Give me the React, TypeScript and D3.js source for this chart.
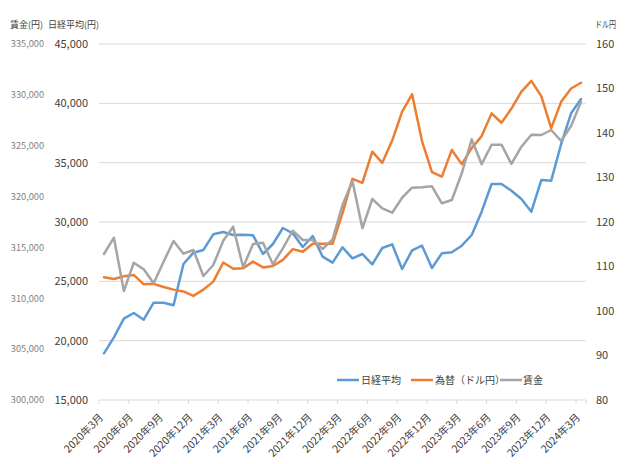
import React from "react";
import * as d3 from "d3";

const months: string[] = [];
for (let y = 2020; y <= 2024; y++) {
  for (let m = 1; m <= 12; m++) {
    if ((y === 2020 && m < 3) || (y === 2024 && m > 3)) continue;
    months.push(`${y}年${m}月`);
  }
}

const nikkei = [
  18935, 20283, 21851, 22331, 21767, 23200, 23200, 22980, 26461, 27413, 27640, 28963,
  29157, 28904, 28930, 28880, 27303, 28146, 29494, 29046, 27893, 28820, 27079, 26573,
  27865, 26938, 27303, 26433, 27809, 28118, 26039, 27612, 28005, 26124, 27359, 27444,
  28005, 28904, 30870, 33202, 33202, 32640, 31938, 30870, 33539, 33483, 36573, 39157, 40365,
];

const fx = [
  107.6, 107.2, 107.8, 108.1, 106.0, 106.1, 105.4, 104.8, 104.4, 103.4, 104.8, 106.6,
  110.9, 109.5, 109.6, 111.1, 109.8, 110.1, 111.5, 113.9, 113.3, 115.1, 115.1, 115.1,
  122.0, 129.7, 128.8, 135.8, 133.3, 138.3, 144.8, 148.7, 138.2, 131.2, 130.2, 136.2,
  133.0, 136.6, 139.3, 144.4, 142.3, 145.5, 149.3, 151.7, 148.3, 141.1, 147.0, 150.0, 151.3,
];

const wage = [
  314355, 315957, 310717, 313500, 312850, 311474, 313598, 315633, 314384, 314748, 312192, 313273,
  315663, 317039, 313047, 315338, 315466, 313342, 314915, 316646, 315731, 315731, 314846, 315800,
  319172, 321532, 316881, 319762, 318847, 318415, 319890, 320873, 320912, 321010, 319339, 319664,
  322288, 325631, 323173, 325100, 325100, 323203, 324903, 326083, 326054, 326545, 325464, 326939, 329327,
];

const nikkeiTicks = [15000, 20000, 25000, 30000, 35000, 40000, 45000];
const wageTicks = [300000, 305000, 310000, 315000, 320000, 325000, 330000, 335000];
const fxTicks = [80, 90, 100, 110, 120, 130, 140, 150, 160];

const seriesNames = ["日経平均", "為替（ドル円）", "賃金"];
const colors = ["#5B9BD5", "#ED7D31", "#A5A5A5"];

const FONT = "'Noto Sans CJK JP', 'Noto Sans', sans-serif";

export default function App() {
  const left = 99, right = 586, top = 44, bottom = 400;
  const x = d3.scaleBand<string>().domain(months).range([left, right]).paddingInner(0).paddingOuter(0);
  const bw = x.bandwidth();
  const cx = (i: number) => (x(months[i]) as number) + bw / 2;
  const yN = d3.scaleLinear().domain([15000, 45000]).range([bottom, top]);
  const yW = d3.scaleLinear().domain([300000, 335000]).range([bottom, top]);
  const yF = d3.scaleLinear().domain([80, 160]).range([bottom, top]);
  const fmt = d3.format(",");

  const lineN = d3.line<number>().x((_, i) => cx(i)).y((d) => yN(d));
  const lineF = d3.line<number>().x((_, i) => cx(i)).y((d) => yF(d));
  const lineW = d3.line<number>().x((_, i) => cx(i)).y((d) => yW(d));

  const tickIdx = months.map((_, i) => i).filter((i) => i % 3 === 0);

  const legendItems = [
    { x: 337, tx: 361 },
    { x: 411, tx: 435 },
    { x: 500, tx: 523 },
  ];

  return (
    <svg
      width={640}
      height={464}
      style={{ position: "absolute", left: 0, top: 0, background: "#fff" }}
      fontFamily={FONT}
    >
      <rect width={640} height={464} fill="#fff" />
      {/* gridlines */}
      {nikkeiTicks.map((t) => (
        <line key={t} x1={left} x2={right} y1={yN(t)} y2={yN(t)} stroke="#d9d9d9" strokeWidth={1} />
      ))}
      {/* x ticks */}
      {tickIdx.map((i) => (
        <line key={"t" + i} x1={x(months[i]) as number} x2={x(months[i]) as number} y1={bottom} y2={bottom + 4} stroke="#d9d9d9" />
      ))}
      <line x1={right} x2={right} y1={bottom} y2={bottom + 4} stroke="#d9d9d9" />
      {/* axis titles */}
      <text x={10} y={28} fontSize={9} fill="#404040">賃金(円)</text>
      <text x={48} y={28} fontSize={9} fill="#404040">日経平均(円)</text>
      <text x={595} y={28} fontSize={9} fill="#404040" textLength={21} lengthAdjust="spacingAndGlyphs">ドル円</text>
      {/* wage ticks */}
      {wageTicks.map((t) => (
        <text key={t} x={44} y={yW(t)} dy="0.35em" textAnchor="end" fontSize={9.2} fill="#7f7f7f">
          {fmt(t)}
        </text>
      ))}
      {/* nikkei ticks */}
      {nikkeiTicks.map((t) => (
        <text key={t} x={88} y={yN(t)} dy="0.35em" textAnchor="end" fontSize={11} fill="#404040">
          {fmt(t)}
        </text>
      ))}
      {/* fx ticks */}
      {fxTicks.map((t) => (
        <text key={t} x={596} y={yF(t)} dy="0.35em" textAnchor="start" fontSize={11} fill="#404040">
          {t}
        </text>
      ))}
      {/* x labels */}
      {tickIdx.map((i) => (
        <text
          key={"l" + i}
          transform={`translate(${cx(i)},${418}) rotate(-45)`}
          textAnchor="end"
          fontSize={10.5}
          fill="#404040"
        >
          {months[i]}
        </text>
      ))}
      {/* lines */}
      <path d={lineN(nikkei) || ""} fill="none" stroke={colors[0]} strokeWidth={2.5} strokeLinejoin="round" strokeLinecap="round" />
      <path d={lineF(fx) || ""} fill="none" stroke={colors[1]} strokeWidth={2.5} strokeLinejoin="round" strokeLinecap="round" />
      <path d={lineW(wage) || ""} fill="none" stroke={colors[2]} strokeWidth={2.5} strokeLinejoin="round" strokeLinecap="round" />
      {/* legend */}
      {seriesNames.map((n, k) => (
        <g key={n}>
          <line x1={legendItems[k].x} x2={legendItems[k].x + 22} y1={380} y2={380} stroke={colors[k]} strokeWidth={2.5} />
          <text x={legendItems[k].tx} y={380} dy="0.35em" fontSize={10} fill="#404040">
            {n}
          </text>
        </g>
      ))}
    </svg>
  );
}
